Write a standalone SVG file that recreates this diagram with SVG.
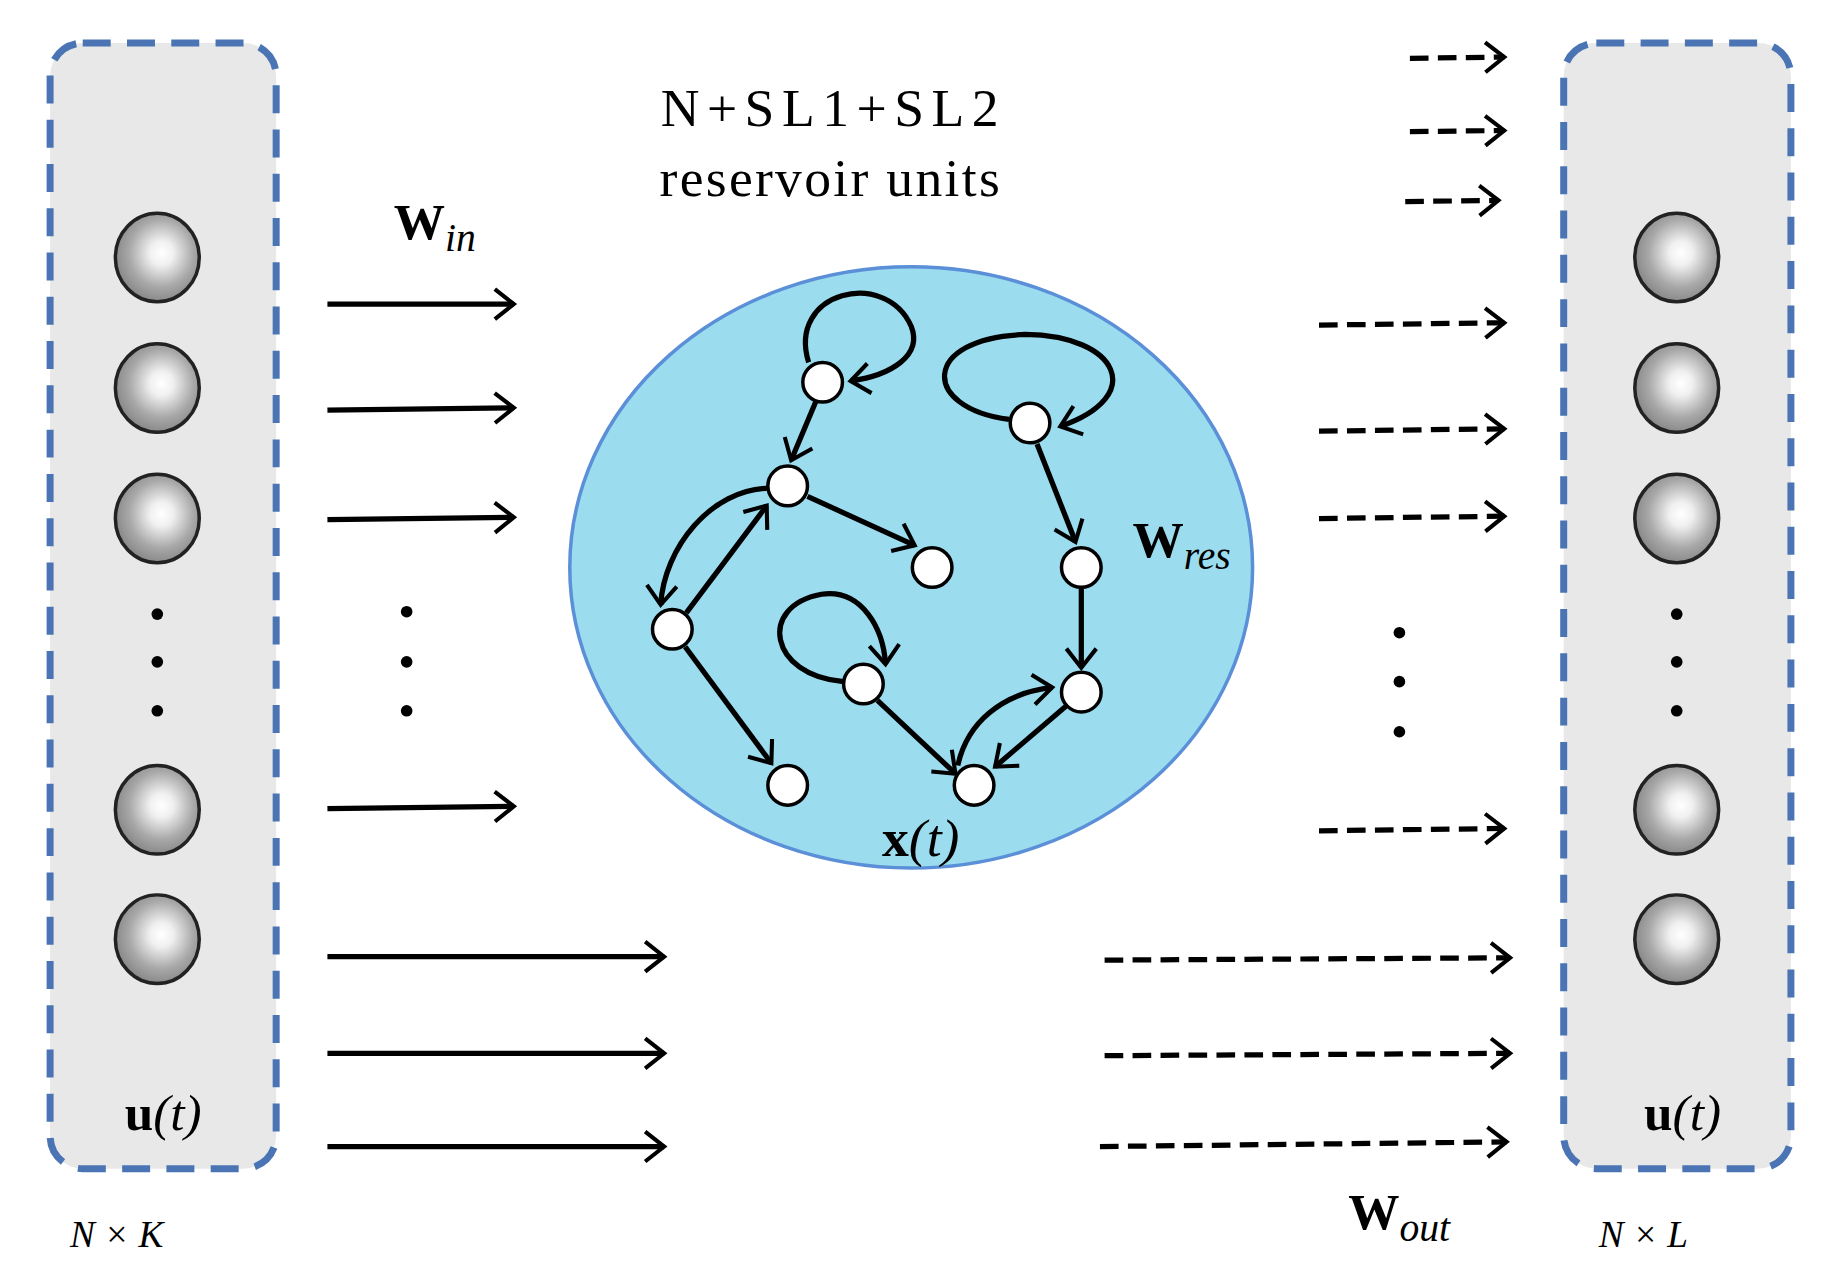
<svg xmlns="http://www.w3.org/2000/svg" width="1827" height="1276" viewBox="0 0 1827 1276">
<defs>
<marker id="ah" viewBox="0 0 12 12" refX="10" refY="6" markerWidth="14" markerHeight="14" markerUnits="userSpaceOnUse" orient="auto" overflow="visible">
<path d="M-4,-5 L10,6 L-4,17" fill="none" stroke="#000" stroke-width="3"/>
</marker>
<radialGradient id="ball" cx="0.55" cy="0.45" r="0.55">
<stop offset="0" stop-color="#fff"/><stop offset="0.25" stop-color="#f0f0f0"/><stop offset="0.7" stop-color="#a8a8a8"/><stop offset="1" stop-color="#8a8a8a"/>
</radialGradient>
</defs>
<style>
.panel{fill:#e8e8e8;stroke:#4a74b4;stroke-width:6;stroke-dasharray:24 14}
.ball{fill:url(#ball);stroke:#222;stroke-width:3}
.s{fill:none;stroke:#000;stroke-width:4.5;marker-end:url(#ah)}
.d{fill:none;stroke:#000;stroke-width:4.5;stroke-dasharray:16 8;marker-end:url(#ah)}
.e{fill:none;stroke:#000;stroke-width:4.5;marker-end:url(#ah)}
.n{fill:#fff;stroke:#000;stroke-width:3}
.dot{fill:#000}
.t{font-family:"Liberation Serif",serif;fill:#000}
</style>
<rect width="1827" height="1276" fill="#fff"/>
<g transform="scale(1.1652)">
<g id="input-panel">
<rect class="panel" x="43" y="37" width="194" height="966" rx="28"/>
<ellipse class="ball" cx="135" cy="221" rx="36" ry="38"/>
<ellipse class="ball" cx="135" cy="333" rx="36" ry="38"/>
<ellipse class="ball" cx="135" cy="445" rx="36" ry="38"/>
<ellipse class="ball" cx="135" cy="695" rx="36" ry="38"/>
<ellipse class="ball" cx="135" cy="806" rx="36" ry="38"/>
<circle class="dot" cx="135" cy="527" r="5"/><circle class="dot" cx="135" cy="568" r="5"/><circle class="dot" cx="135" cy="610" r="5"/>
<text class="t" x="107" y="970" font-size="44"><tspan font-weight="bold">u</tspan><tspan font-style="italic">(t)</tspan></text>
<text class="t" x="60" y="1070" font-size="32" font-style="italic">N × K</text>
</g>
<g id="output-panel">
<rect class="panel" x="1342" y="37" width="195" height="966" rx="28"/>
<ellipse class="ball" cx="1439" cy="221" rx="36" ry="38"/>
<ellipse class="ball" cx="1439" cy="333" rx="36" ry="38"/>
<ellipse class="ball" cx="1439" cy="445" rx="36" ry="38"/>
<ellipse class="ball" cx="1439" cy="695" rx="36" ry="38"/>
<ellipse class="ball" cx="1439" cy="806" rx="36" ry="38"/>
<circle class="dot" cx="1439" cy="527" r="5"/><circle class="dot" cx="1439" cy="568" r="5"/><circle class="dot" cx="1439" cy="610" r="5"/>
<text class="t" x="1411" y="970" font-size="44"><tspan font-weight="bold">u</tspan><tspan font-style="italic">(t)</tspan></text>
<text class="t" x="1372" y="1070" font-size="32" font-style="italic">N × L</text>
</g>
<g id="reservoir">
<ellipse cx="782" cy="487" rx="293" ry="258" fill="#9bdcef" stroke="#5b8fd8" stroke-width="3"/>
<text class="t" x="712" y="108" font-size="46" text-anchor="middle" textLength="290">N+SL1+SL2</text>
<text class="t" x="712" y="168" font-size="46" text-anchor="middle" textLength="292">reservoir units</text>
<text class="t" x="972" y="478" font-size="44"><tspan font-weight="bold">W</tspan><tspan font-style="italic" font-size="34" dy="10">res</tspan></text>
<text class="t" x="757" y="735" font-size="46"><tspan font-weight="bold">x</tspan><tspan font-style="italic">(t)</tspan></text>
</g>
<g id="connectors">
<line class="s" x1="281" y1="261" x2="441" y2="261"/>
<line class="s" x1="281" y1="352" x2="441" y2="350"/>
<line class="s" x1="281" y1="446" x2="441" y2="444"/>
<line class="s" x1="281" y1="694" x2="441" y2="692"/>
<line class="s" x1="281" y1="821" x2="570" y2="821"/>
<line class="s" x1="281" y1="904" x2="570" y2="904"/>
<line class="s" x1="281" y1="984" x2="570" y2="984"/>
<line class="d" x1="1210" y1="50" x2="1291" y2="49"/>
<line class="d" x1="1210" y1="113" x2="1291" y2="112"/>
<line class="d" x1="1206" y1="173" x2="1286" y2="172"/>
<line class="d" x1="1132" y1="279" x2="1291" y2="277"/>
<line class="d" x1="1132" y1="370" x2="1291" y2="368"/>
<line class="d" x1="1132" y1="445" x2="1291" y2="443"/>
<line class="d" x1="1132" y1="713" x2="1291" y2="711"/>
<line class="d" x1="948" y1="824" x2="1296" y2="822"/>
<line class="d" x1="948" y1="906" x2="1296" y2="904"/>
<line class="d" x1="944" y1="984" x2="1293" y2="980"/>
<path class="e" d="M694,311 C675,250 760,230 782,280 C792,305 765,322 730,327"/>
<line class="e" x1="700" y1="345" x2="679" y2="395"/>
<path class="e" d="M866,360 C790,350 790,290 880,287 C960,288 985,340 910,366"/>
<line class="e" x1="890" y1="381" x2="923" y2="465"/>
<line class="e" x1="693" y1="426" x2="785" y2="468"/>
<line class="e" x1="589" y1="526" x2="658" y2="434"/>
<path class="e" d="M660,419 C610,420 570,470 567,519"/>
<line class="e" x1="588" y1="555" x2="662" y2="655"/>
<path class="e" d="M724,585 C660,580 650,520 705,510 C740,505 758,540 760,570"/>
<line class="e" x1="753" y1="601" x2="820" y2="664"/>
<line class="e" x1="928" y1="505" x2="928" y2="573"/>
<line class="e" x1="915" y1="606" x2="854" y2="658"/>
<path class="e" d="M822,657 C830,620 860,595 903,590"/>
</g>
<g id="nodes">
<circle class="n" cx="706" cy="328" r="17"/>
<circle class="n" cx="884" cy="363" r="17"/>
<circle class="n" cx="676" cy="417" r="17"/>
<circle class="n" cx="800" cy="487" r="17"/>
<circle class="n" cx="928" cy="487" r="17"/>
<circle class="n" cx="577" cy="540" r="17"/>
<circle class="n" cx="741" cy="587" r="17"/>
<circle class="n" cx="928" cy="594" r="17"/>
<circle class="n" cx="676" cy="674" r="17"/>
<circle class="n" cx="836" cy="674" r="17"/>
</g>
<g id="labels">
<text class="t" x="338" y="205" font-size="44"><tspan font-weight="bold">W</tspan><tspan font-style="italic" font-size="34" dy="10">in</tspan></text>
<circle class="dot" cx="349" cy="525" r="5"/><circle class="dot" cx="349" cy="568" r="5"/><circle class="dot" cx="349" cy="610" r="5"/>
<circle class="dot" cx="1201" cy="543" r="5"/><circle class="dot" cx="1201" cy="585" r="5"/><circle class="dot" cx="1201" cy="628" r="5"/>
<text class="t" x="1157" y="1055" font-size="44"><tspan font-weight="bold">W</tspan><tspan font-style="italic" font-size="34" dy="10">out</tspan></text>
</g>
</g>
</svg>
